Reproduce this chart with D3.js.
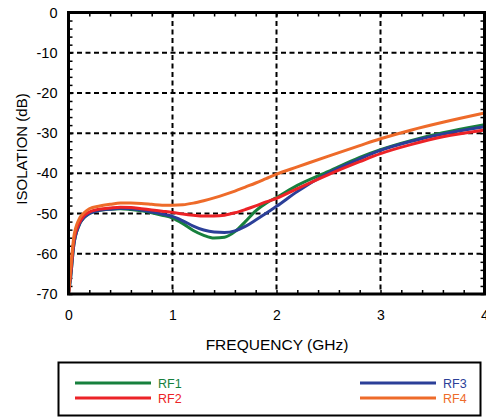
<!DOCTYPE html>
<html>
<head>
<meta charset="utf-8">
<script src="https://cdn.jsdelivr.net/npm/d3@7"></script>
<style>
  body { margin: 0; background: #fff; }
  text { font-family: "Liberation Sans", Arial, sans-serif; }
</style>
</head>
<body>
<div id="chart"></div>
<script>
// frequency in GHz, isolation in dB
const freq = [0, 0.02, 0.05, 0.1, 0.15, 0.2, 0.3, 0.4, 0.5, 0.6, 0.7, 0.8, 0.9, 1.0, 1.1, 1.2, 1.3, 1.4, 1.5, 1.6, 1.7, 1.8, 1.9, 2.0, 2.2, 2.5, 2.8, 3.0, 3.3, 3.6, 4.0];
const rf1 = [-70, -66, -58, -53, -51, -50, -49.2, -48.9, -48.8, -49.0, -49.3, -49.8, -50.4, -51.1, -52.5, -54.2, -55.4, -56.1, -55.9, -54.5, -52.0, -49.3, -47.4, -46.0, -43.0, -39.5, -36.0, -34.1, -31.8, -29.9, -27.9];
const rf2 = [-70, -65, -57, -52.5, -50.5, -49.6, -48.9, -48.6, -48.4, -48.5, -48.8, -49.1, -49.4, -49.7, -50.1, -50.4, -50.6, -50.6, -50.4, -49.8, -49.0, -48.1, -47.1, -46.2, -43.8, -40.3, -37.1, -35.1, -32.8, -30.9, -29.2];
const rf3 = [-70, -66, -58, -53, -51, -50, -49.2, -48.9, -48.7, -48.8, -49.1, -49.6, -50.1, -50.7, -51.8, -53.1, -54.1, -54.6, -54.7, -54.3, -53.2, -51.6, -49.9, -48.2, -44.5, -39.9, -36.4, -34.3, -32.0, -30.2, -28.4];
const rf4 = [-70, -64, -56, -51.5, -49.8, -48.8, -48.1, -47.7, -47.4, -47.4, -47.5, -47.7, -47.9, -47.9, -47.8, -47.4, -46.8, -46.1, -45.3, -44.4, -43.4, -42.4, -41.3, -40.2, -38.4, -35.7, -33.1, -31.4, -29.2, -27.3, -25.0];

const xTicks = [0, 1, 2, 3, 4];
const yTicks = [0, -10, -20, -30, -40, -50, -60, -70];

const series = [
  {name: 'RF1', values: rf1, color: '#17803d'},
  {name: 'RF3', values: rf3, color: '#2b3f98'},
  {name: 'RF2', values: rf2, color: '#ec2327'},
  {name: 'RF4', values: rf4, color: '#ee6b2a'}
];

const W = 486, H = 417;
const margin = {top: 12.5, right: 1.5, bottom: 123, left: 68.5};
const width = W - margin.left - margin.right,
  height = H - margin.top - margin.bottom;

const x = d3.scaleLinear().domain([0, 4]).range([0, width]);
const y = d3.scaleLinear().domain([-70, 0]).range([height, 0]);

const svg = d3.select('#chart').append('svg')
  .attr('width', W)
  .attr('height', H);

const g = svg.append('g')
  .attr('transform', `translate(${margin.left},${margin.top})`);

// dashed grid
g.append('g').selectAll('line')
  .data(xTicks.slice(1, -1))
  .enter().append('line')
    .attr('x1', d => x(d)).attr('x2', d => x(d))
    .attr('y1', 0).attr('y2', height)
    .attr('stroke', '#000').attr('stroke-width', 2)
    .attr('stroke-dasharray', '5,3.5');

g.append('g').selectAll('line')
  .data(yTicks.slice(1, -1))
  .enter().append('line')
    .attr('y1', d => y(d)).attr('y2', d => y(d))
    .attr('x1', 0).attr('x2', width)
    .attr('stroke', '#000').attr('stroke-width', 2)
    .attr('stroke-dasharray', '5,3.5');

// minor ticks pointing inward
const minorX = d3.range(0, 4.001, 0.2);
const minorY = d3.range(-70, 0.001, 2);

function styleAxis(sel) {
  sel.select('.domain').remove();
  sel.selectAll('.tick line').attr('stroke', '#000').attr('stroke-width', 1.5);
}

g.append('g').attr('transform', `translate(0,${height})`)
  .call(d3.axisBottom(x).tickValues(minorX).tickSize(-4).tickFormat(''))
  .call(styleAxis);
g.append('g')
  .call(d3.axisTop(x).tickValues(minorX).tickSize(-4).tickFormat(''))
  .call(styleAxis);
g.append('g')
  .call(d3.axisLeft(y).tickValues(minorY).tickSize(-4).tickFormat(''))
  .call(styleAxis);
g.append('g').attr('transform', `translate(${width},0)`)
  .call(d3.axisRight(y).tickValues(minorY).tickSize(-4).tickFormat(''))
  .call(styleAxis);

// tick labels (plain hyphen minus, as in the original)
const xAxis = g.append('g').attr('transform', `translate(0,${height})`)
  .call(d3.axisBottom(x).tickValues(xTicks).tickSize(0).tickPadding(16).tickFormat(d => String(d)));
xAxis.select('.domain').remove();
xAxis.selectAll('text').attr('font-size', 14).attr('fill', '#000')
  .attr('font-family', '"Liberation Sans", Arial, sans-serif');

const yAxis = g.append('g')
  .call(d3.axisLeft(y).tickValues(yTicks).tickSize(0).tickPadding(11).tickFormat(d => String(d)));
yAxis.select('.domain').remove();
yAxis.selectAll('text').attr('font-size', 14.5).attr('fill', '#000')
  .attr('font-family', '"Liberation Sans", Arial, sans-serif');

// curves
const line = d3.line()
  .x((d, i) => x(freq[i]))
  .y(d => y(d))
  .curve(d3.curveMonotoneX);

g.append('clipPath').attr('id', 'clip')
  .append('rect').attr('width', width).attr('height', height);

g.append('g').attr('clip-path', 'url(#clip)')
  .selectAll('path')
  .data(series)
  .enter().append('path')
    .attr('d', d => line(d.values))
    .attr('fill', 'none')
    .attr('stroke', d => d.color)
    .attr('stroke-width', 3);

// frame
g.append('rect')
  .attr('width', width).attr('height', height)
  .attr('fill', 'none').attr('stroke', '#000').attr('stroke-width', 3);

// axis titles
svg.append('text')
  .attr('transform', `translate(27,149) rotate(-90)`)
  .attr('text-anchor', 'middle')
  .attr('font-size', 15)
  .text('ISOLATION (dB)');

svg.append('text')
  .attr('x', 277).attr('y', 350)
  .attr('text-anchor', 'middle')
  .attr('font-size', 15.5)
  .text('FREQUENCY (GHz)');

// legend
const legend = svg.append('g');
legend.append('rect')
  .attr('x', 58.5).attr('y', 362.5).attr('width', 422).attr('height', 53)
  .attr('fill', 'none').attr('stroke', '#000').attr('stroke-width', 2);

const legendPos = {
  RF1: [75, 383], RF2: [75, 398], RF3: [360, 383], RF4: [360, 398]
};
const legendItems = legend.selectAll('g.item')
  .data(['RF1', 'RF2', 'RF3', 'RF4'].map(n => series.find(s => s.name === n)))
  .enter().append('g')
    .attr('class', 'item')
    .attr('transform', d => `translate(${legendPos[d.name][0]},${legendPos[d.name][1]})`);
legendItems.append('line')
  .attr('x1', 0).attr('x2', 76)
  .attr('stroke', d => d.color).attr('stroke-width', 3);
legendItems.append('text')
  .attr('x', 83).attr('y', 4.5)
  .attr('font-size', 12.5)
  .attr('fill', d => d.color)
  .text(d => d.name);
</script>
</body>
</html>
